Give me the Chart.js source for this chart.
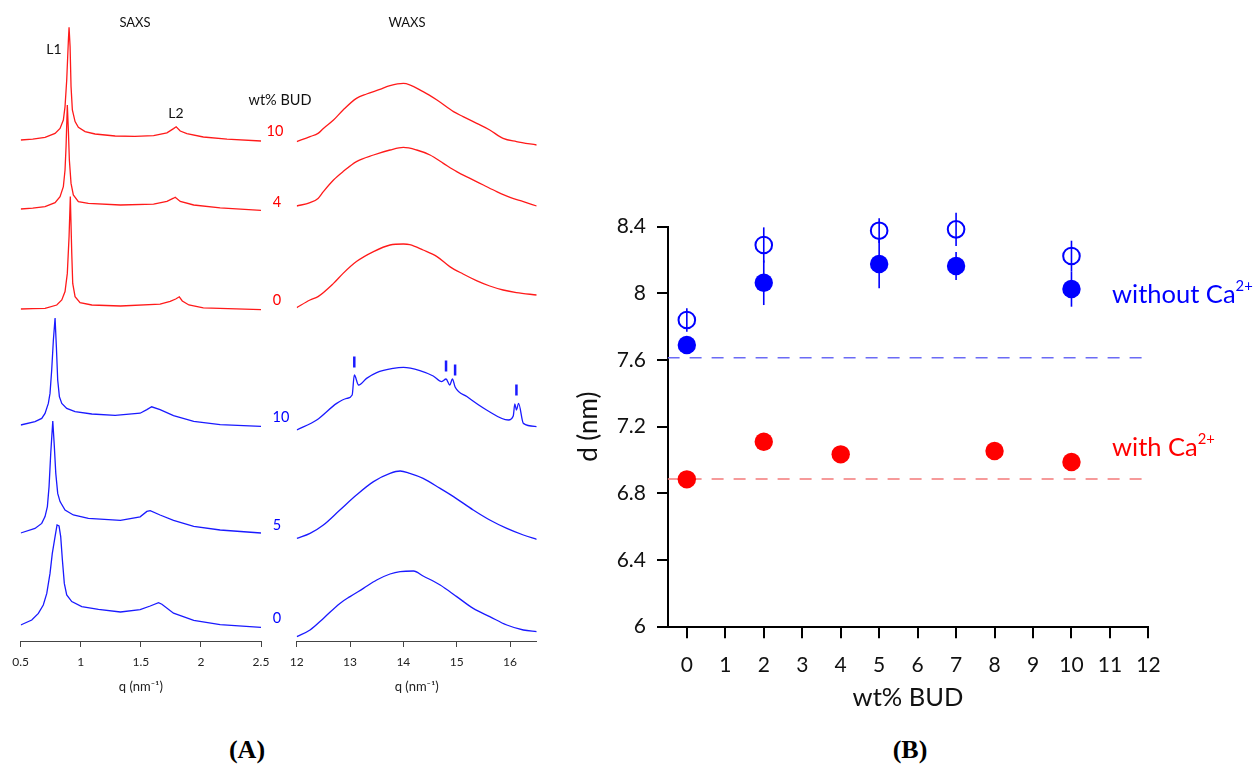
<!DOCTYPE html>
<html>
<head>
<meta charset="utf-8">
<title>SAXS / WAXS and lamellar d-spacing vs wt% BUD</title>
<script src="https://cdn.jsdelivr.net/npm/chart.js@4.4.0/dist/chart.umd.min.js"></script>
<style>
  body { margin: 0; background: #fff; font-family: Lato, "Open Sans", sans-serif; }
  #page { position: relative; width: 1255px; height: 767px; overflow: hidden; }
  canvas { position: absolute; }
  .lbl { position: absolute; transform: translate(-50%, -50%); white-space: nowrap; line-height: 1; color: #111; }
  .side { position: absolute; transform: translate(0, -50%); white-space: nowrap; line-height: 1; font-size: 25.5px; }
  .side sup { font-size: 0.58em; vertical-align: 0.8em; line-height: 0; }
  .panel { position: absolute; transform: translate(-50%, -50%); font-family: "Liberation Serif", serif; font-weight: bold; font-size: 26px; line-height: 1; }
  .red { color: #ff0000; }
  .blue { color: #0000ff; }
</style>
</head>
<body>
<div id="page">
  <canvas id="saxs" width="282" height="700" style="left:0;top:0"></canvas>
  <canvas id="waxs" width="284" height="700" style="left:276px;top:0"></canvas>
  <canvas id="dplot" width="695" height="540" style="left:560px;top:180px"></canvas>

  <div class="lbl" style="left:135px;top:22px;font-size:13px">SAXS</div>
  <div class="lbl" style="left:407px;top:22px;font-size:13px">WAXS</div>
  <div class="lbl" style="left:54px;top:49px;font-size:14px">L1</div>
  <div class="lbl" style="left:176px;top:113px;font-size:14px">L2</div>
  <div class="lbl" style="left:280px;top:100px;font-size:14.5px">wt% BUD</div>
  <div class="lbl red" style="left:275px;top:131px;font-size:14.5px">10</div>
  <div class="lbl red" style="left:277px;top:202px;font-size:14.5px">4</div>
  <div class="lbl red" style="left:277px;top:300px;font-size:14.5px">0</div>
  <div class="lbl blue" style="left:281px;top:417px;font-size:14.5px">10</div>
  <div class="lbl blue" style="left:277px;top:525px;font-size:14.5px">5</div>
  <div class="lbl blue" style="left:277px;top:618px;font-size:14.5px">0</div>

  <div class="side blue" style="left:1112px;top:294px">without Ca<sup>2+</sup></div>
  <div class="side red" style="left:1112px;top:447px">with Ca<sup>2+</sup></div>

  <div class="panel" style="left:247px;top:750px">(A)</div>
  <div class="panel" style="left:910px;top:750px">(B)</div>
</div>
<script>

// ---- panel A: scattering curves, [q (nm^-1), intensity a.u. above own baseline]
// order: 10, 4, 0 wt% BUD with Ca (red), then 10, 5, 0 wt% BUD without Ca (blue)
const sampleOffsets = [250.5, 216, 166, 108, 54, 8];
const sampleColors = ['#ff1a1a', '#ff1a1a', '#ff1a1a', '#1a1aff', '#1a1aff', '#1a1aff'];

const saxsRed10 = [[0.5,0],[0.6,0.4],[0.7025,1.3],[0.786,3.3],[0.8275,5.8],[0.855,10],[0.869,16.7],[0.883,30],[0.897,50],[0.9025,56.3],[0.911,46.7],[0.919,26.7],[0.93,15],[0.9525,9.2],[0.98,6.3],[1.036,4.2],[1.119,3],[1.286,2],[1.45,1.8],[1.606,2.2],[1.717,3.6],[1.772,5.7],[1.794,6.6],[1.828,4.5],[1.883,3.2],[2.02,1.5],[2.217,0.4],[2.5,-0.5]];
const saxsRed4 = [[0.5,0],[0.6,0.4],[0.7025,1.2],[0.786,3.2],[0.8275,6.2],[0.855,11.2],[0.869,19.5],[0.8775,31.2],[0.888,52],[0.8967,39.5],[0.905,24.5],[0.919,12.8],[0.938,7],[0.98,3.7],[1.063,2.8],[1.33,2],[1.606,2.4],[1.717,3.8],[1.772,5.4],[1.786,5.9],[1.828,3.8],[1.94,2],[2.16,0.6],[2.5,-0.7]];
const saxsRed0 = [[0.5,0],[0.6,0.2],[0.7025,0.3],[0.8,2],[0.842,4.5],[0.869,8.7],[0.888,17.8],[0.9025,36.2],[0.913,56.2],[0.925,27.8],[0.933,12.8],[0.9525,6.2],[0.994,3.2],[1.092,2],[1.33,1.5],[1.66,2.4],[1.744,3.8],[1.79,5],[1.82,6.1],[1.845,4],[1.9,2],[2.02,0.6],[2.5,-0.3]];
const saxsBlue10 = [[0.5,0],[0.619,1.7],[0.675,3.3],[0.7025,5.8],[0.73,10.8],[0.744,15.8],[0.758,27.5],[0.772,42.5],[0.786,53.5],[0.797,39],[0.808,22.5],[0.822,14.2],[0.842,10.8],[0.883,8.3],[0.9525,6.7],[1.092,5.5],[1.286,4.8],[1.494,5.9],[1.55,7.7],[1.59,9.1],[1.66,7.7],[1.772,4.7],[1.94,1.8],[2.16,0.2],[2.5,-0.7]];
const saxsBlue5 = [[0.5,0],[0.619,2.3],[0.675,4.8],[0.7025,8.2],[0.722,13.2],[0.736,23.2],[0.75,39.8],[0.767,56],[0.78,43.2],[0.792,29.8],[0.808,19.8],[0.8275,15.7],[0.869,11.5],[0.938,9],[1.063,7.3],[1.33,6.3],[1.494,8.1],[1.55,10.8],[1.578,11.2],[1.66,9],[1.772,6.3],[1.94,3.3],[2.16,1.5],[2.5,0]];
const saxsBlue0 = [[0.5,0],[0.592,2.5],[0.647,5.8],[0.688,10],[0.717,15.8],[0.744,25.8],[0.763,35.8],[0.786,44.2],[0.8025,50],[0.819,49.5],[0.833,44.2],[0.847,32.5],[0.863,20.8],[0.883,15],[0.925,11.7],[1.008,9.2],[1.147,7.8],[1.33,6.5],[1.494,7.7],[1.578,9.5],[1.647,11.2],[1.675,10.4],[1.772,5.9],[1.94,2.3],[2.16,0.2],[2.5,-1.2]];

const waxsRed10 = [[12,-0.8],[12.25,1.7],[12.4,3.3],[12.5,5.8],[12.69,10],[12.87,15],[13.12,20.8],[13.31,23],[13.56,25.3],[13.75,27.2],[14,28.3],[14.37,24.2],[14.63,20],[14.94,14.2],[15.12,11.7],[15.375,8.3],[15.62,5],[15.87,0.8],[16.12,-0.8],[16.5,-2.5]];
const waxsRed4 = [[12,1.5],[12.25,3.2],[12.4,5.3],[12.5,8.7],[12.69,14.5],[12.87,18.7],[13.12,23.7],[13.44,27],[13.75,29.5],[14,30.8],[14.25,29.5],[14.5,27],[14.75,22.8],[15,18.7],[15.25,15.3],[15.5,12],[15.75,8.7],[16,5.8],[16.25,3.7],[16.5,1.5]];
const waxsRed0 = [[12,0.7],[12.25,4.5],[12.4,6.2],[12.69,12.8],[12.87,17.8],[13.12,23.7],[13.44,28.7],[13.75,32],[14,32.5],[14.12,32.2],[14.37,29.5],[14.63,26.2],[14.87,21.2],[15.12,17.5],[15.37,14.2],[15.62,11.5],[15.87,9.5],[16.12,8.2],[16.5,7]];
const waxsBlue10 = [[12,-2.5],[12.375,2.5],[12.75,10.8],[12.94,13.3],[13.04,15],[13.08,25],[13.16,20],[13.31,23.3],[13.5,26.2],[13.81,28.3],[14,28.8],[14.31,27.2],[14.56,24.5],[14.72,21.7],[14.8,23],[14.87,20],[14.92,23],[14.97,19],[15.19,14.2],[15.56,7.5],[15.97,2.5],[16.06,4.5],[16.09,10.5],[16.12,7.5],[16.16,10.8],[16.25,0.8],[16.5,-0.8]];
const waxsBlue5 = [[12,-2.7],[12.25,-0.2],[12.5,4],[12.81,11.5],[13.12,19],[13.44,25.7],[13.75,29.8],[13.94,31],[14.12,29.8],[14.37,27.3],[14.69,22.3],[14.94,18.2],[15.31,11.5],[15.62,6.5],[15.94,2.3],[16.25,-1],[16.5,-3.2]];
const waxsBlue0 = [[12,-5.8],[12.25,-2.5],[12.5,3.3],[12.81,10.8],[13,14.2],[13.25,18.3],[13.5,22.5],[13.75,25.5],[13.94,26.7],[14.19,27],[14.37,24.5],[14.69,20],[15,14.2],[15.31,8.3],[15.62,4.2],[15.94,0],[16.25,-2.5],[16.5,-3.3]];

// crystalline reflections marked above the 10 wt% curve without Ca
const markQ = [13.08, 14.8, 14.97, 16.12];
const markI = [31.5, 29.5, 27.5, 17.5];

const saxsTicks = [0.5, 1, 1.5, 2, 2.5];
const waxsTicks = [12, 13, 14, 15, 16];

// ---- panel B: d-spacing (nm) vs wt% BUD
const bTicksX = [0, 1, 2, 3, 4, 5, 6, 7, 8, 9, 10, 11, 12];
const bTicksY = [6, 6.4, 6.8, 7.2, 7.6, 8, 8.4];
const withoutX = [0, 2, 5, 7, 10];
const withoutFilled = [7.69, 8.064, 8.176, 8.164, 8.026];
const withoutFilledErr = [0.03, 0.134, 0.146, 0.084, 0.106];
const withoutOpen = [7.84, 8.29, 8.376, 8.384, 8.224];
const withoutOpenErr = [0.07, 0.106, 0.074, 0.1, 0.092];
const withX = [0, 2, 4, 8, 10];
const withD = [6.884, 7.11, 7.034, 7.054, 6.988];
const refWithout = 7.614;
const refWith = 6.886;

const font = 'Lato';

function curveSet(smooth) {
    return function(curve, i) {
        return {
            data: curve.map(p => ({x: p[0], y: p[1] + sampleOffsets[i]})),
            borderColor: sampleColors[i],
            borderWidth: 1.3,
            pointRadius: 0,
            showLine: true,
            cubicInterpolationMode: smooth ? 'monotone' : 'default',
            tension: 0
        };
    };
}

function stackChart(id, curves, smooth, qMin, qMax, qTicks, padRight, extra) {
    let datasets = curves.map(curveSet(smooth)).concat(extra || []);
    return new Chart(document.getElementById(id), {
        type: 'scatter',
        data: {datasets: datasets},
        options: {
            responsive: false,
            animation: false,
            layout: {padding: {left: 20.7, right: padRight, top: 21, bottom: 0}},
            plugins: {legend: {display: false}, tooltip: {enabled: false}},
            scales: {
                x: {
                    type: 'linear', min: qMin, max: qMax,
                    afterBuildTicks: s => { s.ticks = qTicks.map(v => ({value: v})); },
                    afterFit: s => { s.height = 59; },
                    ticks: {callback: v => String(v), font: {family: font, size: 12}, color: '#222', padding: 8, autoSkip: false, maxRotation: 0},
                    grid: {drawOnChartArea: false, drawTicks: true, tickLength: 6, color: '#444'},
                    border: {color: '#444', width: 1},
                    title: {display: true, text: 'q (nm\u207B\u00B9)', font: {family: font, size: 13}, color: '#222', padding: {top: 0, bottom: 5.5}}
                },
                y: {display: false, min: 0, max: 310}
            }
        }
    });
}

stackChart('saxs', [saxsRed10, saxsRed4, saxsRed0, saxsBlue10, saxsBlue5, saxsBlue0], false, 0.5, 2.5, saxsTicks, 21);

stackChart('waxs', [waxsRed10, waxsRed4, waxsRed0, waxsBlue10, waxsBlue5, waxsBlue0], true, 12, 16.5, waxsTicks, 23.3, [{
    data: markQ.map((q, i) => ({x: q, y: markI[i] + sampleOffsets[3]})),
    pointStyle: 'line',
    rotation: 90,
    pointRadius: 5.5,
    borderWidth: 2.5,
    borderColor: '#1a1aff',
    showLine: false
}]);

const errorBars = {
    id: 'errorBars',
    beforeDatasetsDraw(chart) {
        let ctx = chart.ctx;
        let xs = chart.scales.x, ys = chart.scales.y;
        ctx.save();
        ctx.strokeStyle = '#0000ff';
        ctx.lineWidth = 1.6;
        for (let [vals, errs] of [[withoutOpen, withoutOpenErr], [withoutFilled, withoutFilledErr]]) {
            withoutX.forEach((xv, i) => {
                let px = xs.getPixelForValue(xv);
                ctx.beginPath();
                ctx.moveTo(px, ys.getPixelForValue(vals[i] - errs[i]));
                ctx.lineTo(px, ys.getPixelForValue(vals[i] + errs[i]));
                ctx.stroke();
            });
        }
        ctx.restore();
    }
};

new Chart(document.getElementById('dplot'), {
    type: 'scatter',
    data: {
        datasets: [
            {data: withX.map((x, i) => ({x: x, y: withD[i]})), backgroundColor: '#ff0000', borderWidth: 0, pointRadius: 9.2, clip: false},
            {data: withoutX.map((x, i) => ({x: x, y: withoutFilled[i]})), backgroundColor: '#0000ff', borderWidth: 0, pointRadius: 9.2, clip: false},
            {data: withoutX.map((x, i) => ({x: x, y: withoutOpen[i]})), backgroundColor: 'rgba(0,0,0,0)', borderColor: '#0000ff', borderWidth: 2, pointRadius: 8.3, clip: false},
            {data: [{x: -0.5, y: refWithout}, {x: 12, y: refWithout}], showLine: true, pointRadius: 0, borderColor: '#6b6bf5', borderWidth: 1.5, borderDash: [12, 10]},
            {data: [{x: -0.5, y: refWith}, {x: 12, y: refWith}], showLine: true, pointRadius: 0, borderColor: '#f47a7a', borderWidth: 1.5, borderDash: [12, 10]}
        ]
    },
    options: {
        responsive: false,
        animation: false,
        layout: {padding: {left: 10, right: 106.6, top: 46.7, bottom: 0}},
        plugins: {legend: {display: false}, tooltip: {enabled: false}},
        scales: {
            x: {
                type: 'linear', min: -0.5, max: 12,
                afterBuildTicks: s => { s.ticks = bTicksX.map(v => ({value: v})); },
                afterFit: s => { s.height = 93.3; },
                ticks: {callback: v => String(v), font: {family: font, size: 21}, color: '#111', padding: 14, autoSkip: false, maxRotation: 0},
                grid: {drawOnChartArea: false, drawTicks: true, tickLength: 11.6, color: '#000', lineWidth: 2},
                border: {color: '#000', width: 2},
                title: {display: true, text: 'wt% BUD', font: {family: font, size: 25.5}, color: '#111', padding: {top: 0, bottom: 7}}
            },
            y: {
                min: 6, max: 8.4,
                afterBuildTicks: s => { s.ticks = bTicksY.map(v => ({value: v})); },
                afterFit: s => { s.width = 97.6; },
                ticks: {callback: v => String(v), font: {family: font, size: 21}, color: '#111', padding: 11, autoSkip: false},
                grid: {drawOnChartArea: false, drawTicks: true, tickLength: 10.6, color: '#000', lineWidth: 2},
                border: {color: '#000', width: 2},
                title: {display: true, text: 'd (nm)', font: {family: font, size: 26}, color: '#111', padding: {top: 3.5, bottom: 0}}
            }
        }
    },
    plugins: [errorBars]
});

</script>
</body>
</html>
